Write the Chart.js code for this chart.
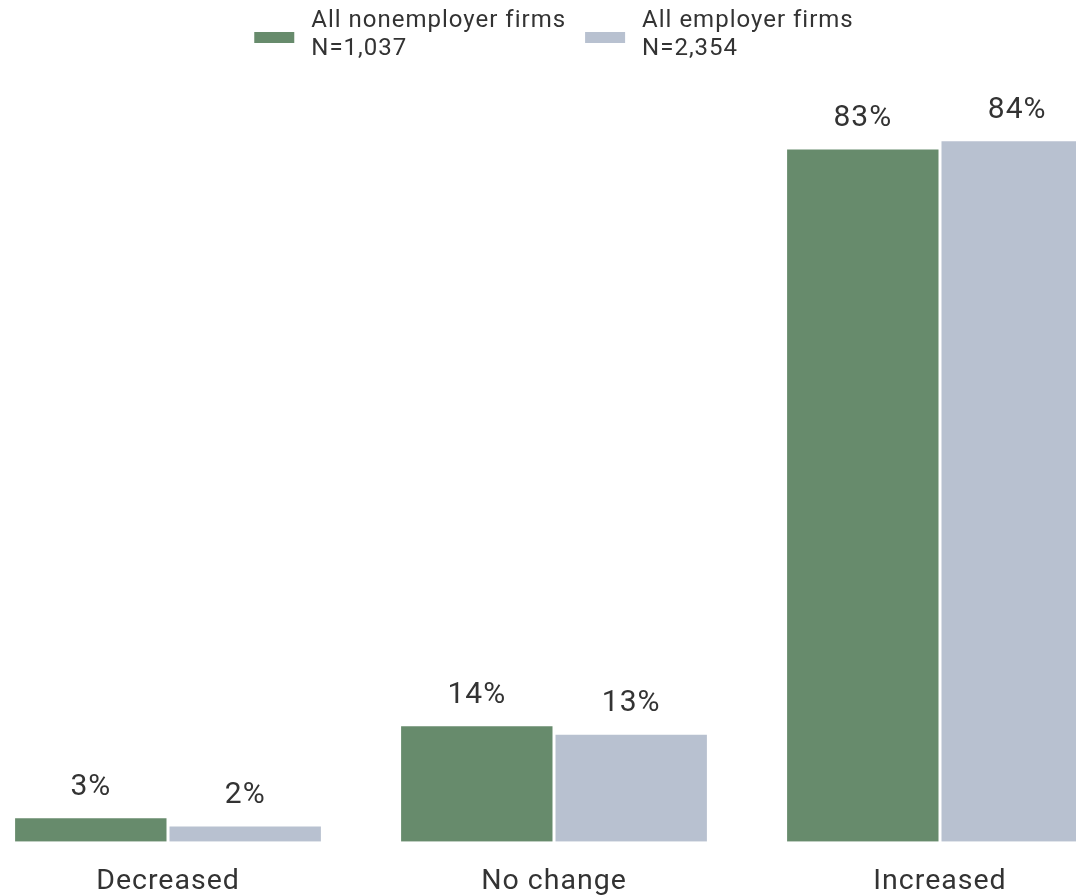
<!DOCTYPE html>
<html>
<head>
<meta charset="utf-8">
<script src="https://cdn.jsdelivr.net/npm/chart.js@4/dist/chart.umd.min.js"></script>
<style>
  html, body { margin: 0; padding: 0; background: #fff; overflow: hidden; }
  #wrap { position: absolute; left: -25px; top: 0; width: 1158px; height: 922px; }
</style>
</head>
<body>
<div id="wrap"><canvas id="changeChart" width="1158" height="922"></canvas></div>
<script>
// Categories and shares (%)
const categories = ['Decreased', 'No change', 'Increased'];
const nonemployerValues = [3, 14, 83];
const employerValues = [2, 13, 84];
const seriesNames = [['All nonemployer firms', 'N=1,037'], ['All employer firms', 'N=2,354']];

const GREEN = 'rgb(103, 139, 108)';
const GRAY = 'rgb(184, 193, 208)';
const TEXT = '#333333';
const FONT = 'Roboto, "Noto Sans", sans-serif';

// slightly looser tracking for all text on the canvas
const tracking = {
    id: 'tracking',
    beforeDraw(chart) {
        chart.ctx.letterSpacing = '1px';
    }
};

// Percent labels above each bar
const valueLabels = {
    id: 'valueLabels',
    afterDatasetsDraw(chart) {
        const ctx = chart.ctx;
        ctx.save();
        ctx.font = '30px ' + FONT;
        ctx.fillStyle = TEXT;
        ctx.textAlign = 'center';
        ctx.textBaseline = 'alphabetic';
        chart.data.datasets.forEach((ds, i) => {
            chart.getDatasetMeta(i).data.forEach((bar, j) => {
                ctx.fillText(ds.data[j] + '%', bar.x, bar.y - 22);
            });
        });
        ctx.restore();
    }
};

// Two-line legend centred at the top
const topLegend = {
    id: 'topLegend',
    afterDraw(chart) {
        const ctx = chart.ctx;
        ctx.save();
        ctx.font = '24px ' + FONT;
        const boxW = 40, boxH = 11, gap = 17, spacing = 19;
        const items = chart.data.datasets.map(ds => {
            const w = Math.max(...ds.label.map(t => ctx.measureText(t).width));
            return { ds, w: boxW + gap + w };
        });
        const total = items.reduce((s, it) => s + it.w, 0) + spacing * (items.length - 1);
        let x = chart.width / 2 - total / 2;
        items.forEach(it => {
            ctx.fillStyle = it.ds.backgroundColor;
            ctx.fillRect(x, 32, boxW, boxH);
            ctx.fillStyle = TEXT;
            ctx.textAlign = 'left';
            ctx.textBaseline = 'alphabetic';
            ctx.fillText(it.ds.label[0], x + boxW + gap, 27);
            ctx.fillText(it.ds.label[1], x + boxW + gap, 55);
            x += it.w + spacing;
        });
        ctx.restore();
    }
};

new Chart(document.getElementById('changeChart').getContext('2d'), {
    type: 'bar',
    data: {
        labels: categories,
        datasets: [
            {
                label: seriesNames[0],
                data: nonemployerValues,
                backgroundColor: GREEN,
                borderColor: '#ffffff',
                borderWidth: 1.5
            },
            {
                label: seriesNames[1],
                data: employerValues,
                backgroundColor: GRAY,
                borderColor: '#ffffff',
                borderWidth: 1.5
            }
        ]
    },
    options: {
        responsive: false,
        animation: false,
        layout: { padding: { top: 6, left: 0, right: 0, bottom: 0 } },
        datasets: {
            bar: { categoryPercentage: 0.8, barPercentage: 1.0 }
        },
        plugins: {
            legend: { display: false },
            tooltip: { enabled: false }
        },
        scales: {
            x: {
                grid: { display: false, drawTicks: false },
                border: { display: false },
                ticks: {
                    color: TEXT,
                    padding: 23,
                    font: { family: FONT, size: 28.5 }
                }
            },
            y: {
                display: false,
                min: 0,
                max: 100
            }
        }
    },
    plugins: [tracking, valueLabels, topLegend]
});
</script>
</body>
</html>
